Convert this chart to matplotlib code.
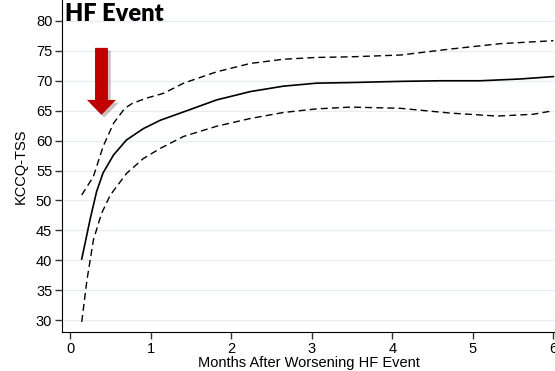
import numpy as np
import matplotlib.pyplot as plt
from matplotlib.patches import FancyArrow
import matplotlib.patheffects as pe

plt.rcParams['font.family'] = ['Liberation Sans', 'DejaVu Sans']

# estimate (solid) and confidence band (dashed)
months = [0.145, 0.25, 0.33, 0.41, 0.54, 0.70, 0.91, 1.12, 1.41, 1.82, 2.24, 2.65,
          3.06, 3.48, 4.1, 4.6, 5.09, 5.59, 6.0]
estimate = [40.2, 46.9, 51.5, 54.6, 57.6, 60.1, 62.0, 63.4, 64.8, 66.8, 68.2, 69.1,
            69.6, 69.7, 69.9, 70.0, 70.0, 70.3, 70.7]

up_months = [0.145, 0.29, 0.41, 0.54, 0.68, 0.77, 0.95, 1.16, 1.41, 1.82, 2.24, 2.65,
             3.06, 3.48, 4.1, 4.72, 5.34, 6.0]
upper = [50.9, 54.0, 59.0, 62.9, 65.4, 66.2, 67.1, 67.9, 69.6, 71.5, 72.9, 73.6,
         73.9, 74.0, 74.3, 75.3, 76.2, 76.7]

lo_months = [0.145, 0.21, 0.29, 0.39, 0.50, 0.70, 0.91, 1.12, 1.41, 1.82, 2.24, 2.65,
             3.06, 3.48, 4.1, 4.72, 5.3, 5.75, 6.0]
lower = [29.7, 36.7, 43.4, 47.8, 50.9, 54.5, 57.0, 58.7, 60.7, 62.4, 63.7, 64.7,
         65.3, 65.6, 65.4, 64.6, 64.1, 64.4, 65.0]

yticks = [30, 35, 40, 45, 50, 55, 60, 65, 70, 75, 80]
xticks = [0, 1, 2, 3, 4, 5, 6]

fig = plt.figure(figsize=(5.55, 3.71), dpi=100)
ax = fig.add_axes([0.1117, 0.105, 0.8883, 0.895])

for y in yticks:
    ax.axhline(y, color='#e6eef0', lw=1.0, zorder=0)

ax.plot(months, estimate, color='black', lw=1.2, solid_joinstyle='round')
ax.plot(up_months, upper, color='black', lw=1.0, dashes=(5, 3))
ax.plot(lo_months, lower, color='black', lw=1.0, dashes=(5, 3))

# red arrow
arrow = FancyArrow(0.39, 75.5, 0, -11.2, width=0.16, head_width=0.36, head_length=2.5,
                   length_includes_head=True, color='#c00000', lw=0,
                   path_effects=[pe.SimplePatchShadow(offset=(2, -2), alpha=0.25), pe.Normal()])
ax.add_patch(arrow)

ax.set_xlim(-0.1, 6.02)
ax.set_ylim(28.0, 83.5)
ax.set_xticks(xticks)
ax.set_yticks(yticks)
ax.tick_params(labelsize=10.5, length=5, width=1, color='#333333', pad=2)
ax.spines['top'].set_visible(False)
ax.spines['right'].set_visible(False)
ax.set_xlabel('Months After Worsening HF Event', fontsize=10.5, labelpad=0)
ax.set_ylabel('KCCQ-TSS', fontsize=10.5, labelpad=6)

fig.text(0.117, 0.962, 'HF Event', fontsize=17, fontweight='heavy', family=['Lato', 'DejaVu Sans'],
         va='center', ha='left')

fig.savefig('out.png', dpi=100)
